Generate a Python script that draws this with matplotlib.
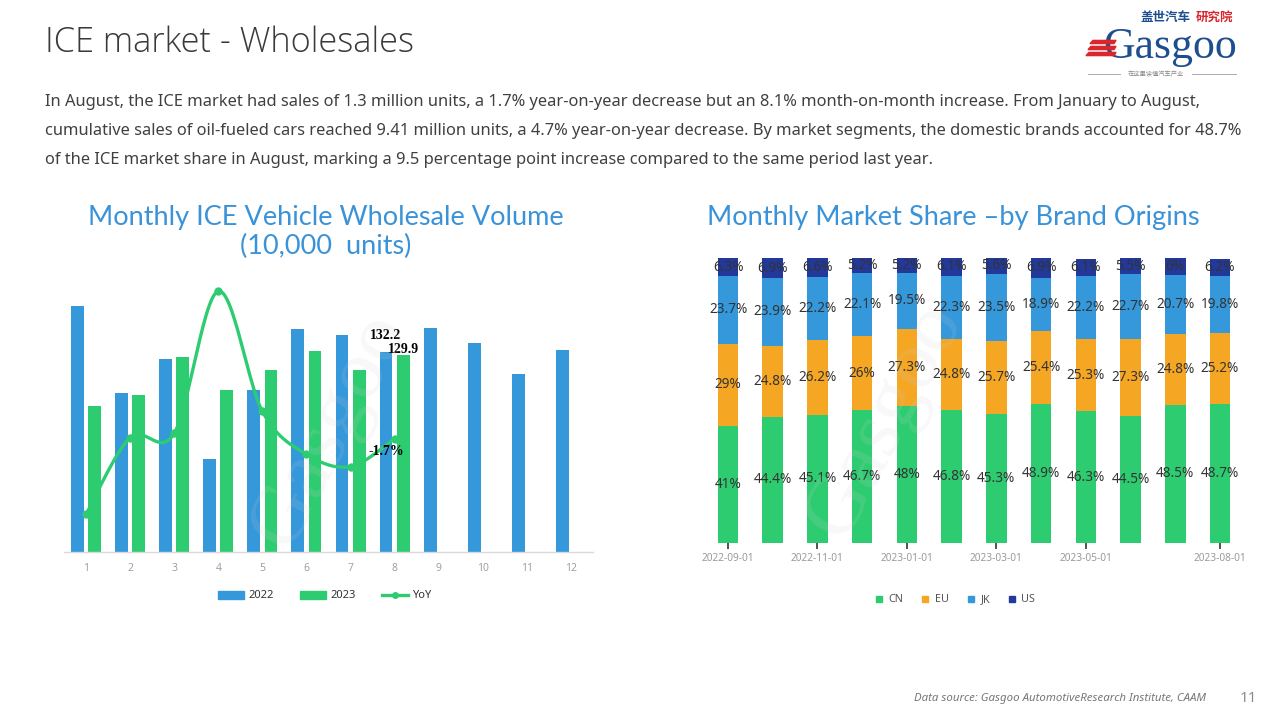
import numpy as np
import matplotlib
matplotlib.use("Agg")
import matplotlib.pyplot as plt
from matplotlib.patches import Patch, Polygon
from matplotlib.lines import Line2D

# ---------------- data ----------------
months = [1, 2, 3, 4, 5, 6, 7, 8, 9, 10, 11, 12]
sales_2022 = [162.6, 105.1, 127.6, 61.5, 107.1, 147.4, 143.4, 132.2, 148.1, 138.1, 117.7, 133.5]
months_2023 = [1, 2, 3, 4, 5, 6, 7, 8]
sales_2023 = [96.5, 103.8, 128.9, 107.1, 120.3, 132.9, 120.3, 129.9]
yoy_2023 = [-40.6, -1.2, 1.0, 74.1, 12.3, -9.8, -16.1, -1.7]

share_dates = ['2022-09-01', '2022-10-01', '2022-11-01', '2022-12-01', '2023-01-01', '2023-02-01',
               '2023-03-01', '2023-04-01', '2023-05-01', '2023-06-01', '2023-07-01', '2023-08-01']
shown_dates = ['2022-09-01', '2022-11-01', '2023-01-01', '2023-03-01', '2023-05-01', '2023-08-01']
share_cn = [41, 44.4, 45.1, 46.7, 48, 46.8, 45.3, 48.9, 46.3, 44.5, 48.5, 48.7]
share_eu = [29, 24.8, 26.2, 26, 27.3, 24.8, 25.7, 25.4, 25.3, 27.3, 24.8, 25.2]
share_jk = [23.7, 23.9, 22.2, 22.1, 19.5, 22.3, 23.5, 18.9, 22.2, 22.7, 20.7, 19.8]
share_us = [6.3, 6.9, 6.6, 5.2, 5.2, 6.1, 5.6, 6.9, 6.1, 5.5, 6, 6.2]
share_labels = ['CN', 'EU', 'JK', 'US']

# ---------------- style ----------------
BLUE = '#3498DB'
GREEN = '#2ECC71'
ORANGE = '#F5A623'
NAVY = '#23389B'
TITLE_BLUE = '#3A93D8'
plt.rcParams['font.family'] = ['Noto Sans', 'DejaVu Sans']

W, H = 1280, 720
fig = plt.figure(figsize=(12.8, 7.2), dpi=100)


def fx(px):
    return px / W


def fy(py):
    return 1 - py / H


renderer = fig.canvas.get_renderer()


def fit(t, width_px):
    bb = t.get_window_extent(renderer)
    t.set_fontsize(t.get_fontsize() * width_px / bb.width)
    return t.get_fontsize()


# ---------------- header ----------------
t = fig.text(fx(45), fy(43), 'ICE market - Wholesales', fontsize=24, color='#3a3a3a',
             va='center', ha='left', family=['Open Sans', 'DejaVu Sans'], fontweight='light')
fit(t, 371)

body = [
    "In August, the ICE market had sales of 1.3 million units, a 1.7% year-on-year decrease but an 8.1% month-on-month increase. From January to August,",
    "cumulative sales of oil-fueled cars reached 9.41 million units, a 4.7% year-on-year decrease. By market segments, the domestic brands accounted for 48.7%",
    "of the ICE market share in August, marking a 9.5 percentage point increase compared to the same period last year.",
]
body_y = [102, 131, 160]
bt = fig.text(fx(45), fy(body_y[0]), body[0], fontsize=11, color='#404040', va='center', ha='left')
fs = fit(bt, 1162)
for line, y in zip(body[1:], body_y[1:]):
    fig.text(fx(45), fy(y), line, fontsize=fs, color='#404040', va='center', ha='left')

# logo
lt = fig.text(fx(1103), fy(58), 'Gasgoo', family=['Liberation Serif', 'DejaVu Serif'],
              fontsize=30, color='#1D4E8F', va='baseline', ha='left')
fit(lt, 134)
for yy, x0 in [(42, 1090), (48, 1088), (54, 1086)]:
    fig.patches.append(Polygon([[fx(x0 + 3), fy(yy - 1.6)], [fx(1116), fy(yy - 1.6)],
                                [fx(1114), fy(yy + 1.6)], [fx(x0), fy(yy + 1.6)]],
                               closed=True, transform=fig.transFigure, color='#D9262C', zorder=5))
c1 = fig.text(fx(1140), fy(17), '盖世汽车', family=['Noto Sans CJK SC'], fontsize=11,
              fontweight='bold', color='#1D4E8F', va='center', ha='left')
fit(c1, 50)
c2 = fig.text(fx(1233), fy(17), '研究院', family=['Noto Sans CJK SC'], fontsize=c1.get_fontsize(),
              fontweight='bold', color='#D9262C', va='center', ha='right')
fig.text(fx(1156), fy(74), '在这里读懂汽车产业', family=['Noto Sans CJK SC'], fontsize=4.5,
         color='#888888', va='center', ha='center')
fig.lines.append(Line2D([fx(1088), fx(1120)], [fy(74), fy(74)], transform=fig.transFigure,
                        color='#aaaaaa', lw=0.7))
fig.lines.append(Line2D([fx(1192), fx(1236)], [fy(74), fy(74)], transform=fig.transFigure,
                        color='#aaaaaa', lw=0.7))

# footer
ft = fig.text(fx(914), fy(698), 'Data source: Gasgoo AutomotiveResearch Institute, CAAM',
              fontsize=8, style='italic', color='#777777', va='center', ha='left')
fit(ft, 291)
fig.text(fx(1248), fy(698), '11', fontsize=11, color='#888888', va='center', ha='center',
         family=['Open Sans', 'DejaVu Sans'])

# ---------------- left chart ----------------
lt1 = fig.text(fx(326), fy(217), 'Monthly ICE Vehicle Wholesale Volume', family=['Lato', 'DejaVu Sans'],
               fontsize=18, color=TITLE_BLUE, ha='center', va='center')
tfs = fit(lt1, 474)
fig.text(fx(326), fy(246), '(10,000  units)', family=['Lato', 'DejaVu Sans'],
         fontsize=tfs, color=TITLE_BLUE, ha='center', va='center')

ax = fig.add_axes([fx(64), fy(552), fx(593) - fx(64), (552 - 279.7) / H])
m22 = np.array(months, dtype=float)
m23 = np.array(months_2023, dtype=float)
ax.bar(m22 - 0.195, sales_2022, 0.29, color=BLUE, zorder=2)
ax.bar(m23 + 0.195, sales_2023, 0.29, color=GREEN, zorder=2)
ax.set_xlim(0.5, 12.5)
ax.set_ylim(0, 180)
for s in ['top', 'left', 'right']:
    ax.spines[s].set_visible(False)
ax.spines['bottom'].set_color('#d9d9d9')
ax.spines['bottom'].set_linewidth(1.0)
ax.set_xticks(months)
ax.set_xticklabels([str(m) for m in months], fontsize=7.5, color='#9a9a9a',
                   family=['Open Sans', 'DejaVu Sans'])
ax.tick_params(axis='x', length=0, pad=8)
ax.set_yticks([])
ax.patch.set_alpha(0)

ax2 = ax.twinx()
ax2.set_ylim(-60, 80)
ax2.set_xlim(0.5, 12.5)
ax2.axis('off')


def catmull_rom(xs, ys, n=30):
    P = np.column_stack([xs, ys]).astype(float)
    P_ext = np.vstack([P[0], P, P[-1]])
    out = []
    for i in range(1, len(P_ext) - 2):
        p0, p1, p2, p3 = P_ext[i - 1], P_ext[i], P_ext[i + 1], P_ext[i + 2]
        c1 = p1 + (p2 - p0) / 6.0
        c2 = p2 - (p3 - p1) / 6.0
        tt = np.linspace(0, 1, n)[:, None]
        seg = ((1 - tt) ** 3) * p1 + 3 * ((1 - tt) ** 2) * tt * c1 + 3 * (1 - tt) * tt ** 2 * c2 + tt ** 3 * p2
        out.append(seg if i == 1 else seg[1:])
    return np.vstack(out)


curve = catmull_rom(m23, yoy_2023)
ax2.plot(curve[:, 0], curve[:, 1], color=GREEN, lw=2.4, zorder=4, solid_capstyle='round')
ax2.plot(m23, yoy_2023, 'o', color=GREEN, ms=5, zorder=5)

lab_kw = dict(family=['Liberation Serif', 'DejaVu Serif'], fontsize=10, fontweight='bold',
              color='black', ha='center', va='center', zorder=6)
ax.annotate(f'{sales_2022[7]:.1f}', (m22[7] - 0.195, sales_2022[7]), xytext=(0, 12),
            textcoords='offset points', **lab_kw)
ax.annotate(f'{sales_2023[7]:.1f}', (m23[7] + 0.195, sales_2023[7]), xytext=(0, 4.5),
            textcoords='offset points', **lab_kw)
ax2.annotate(f'{yoy_2023[7]:.1f}%', (m23[7], yoy_2023[7]), xytext=(-5.7, -9.3),
             textcoords='offset points', **lab_kw)

leg_handles = [Patch(color=BLUE, label='2022'), Patch(color=GREEN, label='2023'),
               Line2D([0], [0], color=GREEN, lw=2.4, marker='o', ms=4, label='YoY')]
fig.legend(handles=leg_handles, loc='center', bbox_to_anchor=(fx(325), fy(596)), ncol=3,
           frameon=False, fontsize=8, handlelength=2.3, handleheight=0.7, handletextpad=0.4,
           columnspacing=2.4, labelcolor='#333333')

# watermark (faint)
fig.text(fx(330), fy(430), 'Gasgoo', fontsize=60, rotation=62, color='#cfcfcf', alpha=0.15,
         ha='center', va='center', family=['Liberation Serif', 'DejaVu Serif'], zorder=3)
fig.text(fx(885), fy(420), 'Gasgoo', fontsize=60, rotation=62, color='#cfcfcf', alpha=0.15,
         ha='center', va='center', family=['Liberation Serif', 'DejaVu Serif'], zorder=3)

# ---------------- right chart ----------------
rt = fig.text(fx(953), fy(218), 'Monthly Market Share –by Brand Origins', family=['Lato', 'DejaVu Sans'],
              fontsize=18, color=TITLE_BLUE, ha='center', va='center')
fit(rt, 492)

axr = fig.add_axes([fx(705.7), fy(543), (1242.3 - 705.7) / W, (543 - 258.3) / H])
xi = np.arange(len(share_dates))
bottom = np.zeros(len(share_dates))
for vals, col in zip([share_cn, share_eu, share_jk, share_us], [GREEN, ORANGE, BLUE, NAVY]):
    vals = np.array(vals, dtype=float)
    axr.bar(xi, vals, 0.46, bottom=bottom, color=col, zorder=2)
    for x, b, v in zip(xi, bottom, vals):
        axr.text(x, b + v / 2, f'{v:g}%', ha='center', va='center', fontsize=9.8,
                 color='#333333', zorder=4)
    bottom = bottom + vals
axr.set_xlim(-0.5, 11.5)
axr.set_ylim(0, 100)
for s in axr.spines.values():
    s.set_visible(False)
axr.set_yticks([])
axr.set_xticks([share_dates.index(d) for d in shown_dates])
axr.set_xticklabels(shown_dates, fontsize=7.3, color='#9a9a9a')
axr.tick_params(axis='x', length=4.5, width=1.3, color='#444444', pad=3)
axr.patch.set_alpha(0)

r_handles = [Line2D([0], [0], marker='s', ls='none', color=c, ms=5, label=l)
             for c, l in zip([GREEN, ORANGE, BLUE, NAVY], share_labels)]
fig.legend(handles=r_handles, loc='center', bbox_to_anchor=(fx(955), fy(600)), ncol=4,
           frameon=False, fontsize=7.8, handlelength=0.8, handletextpad=0.5,
           columnspacing=1.6, labelcolor='#555555')

fig.savefig('out.png', dpi=100)
